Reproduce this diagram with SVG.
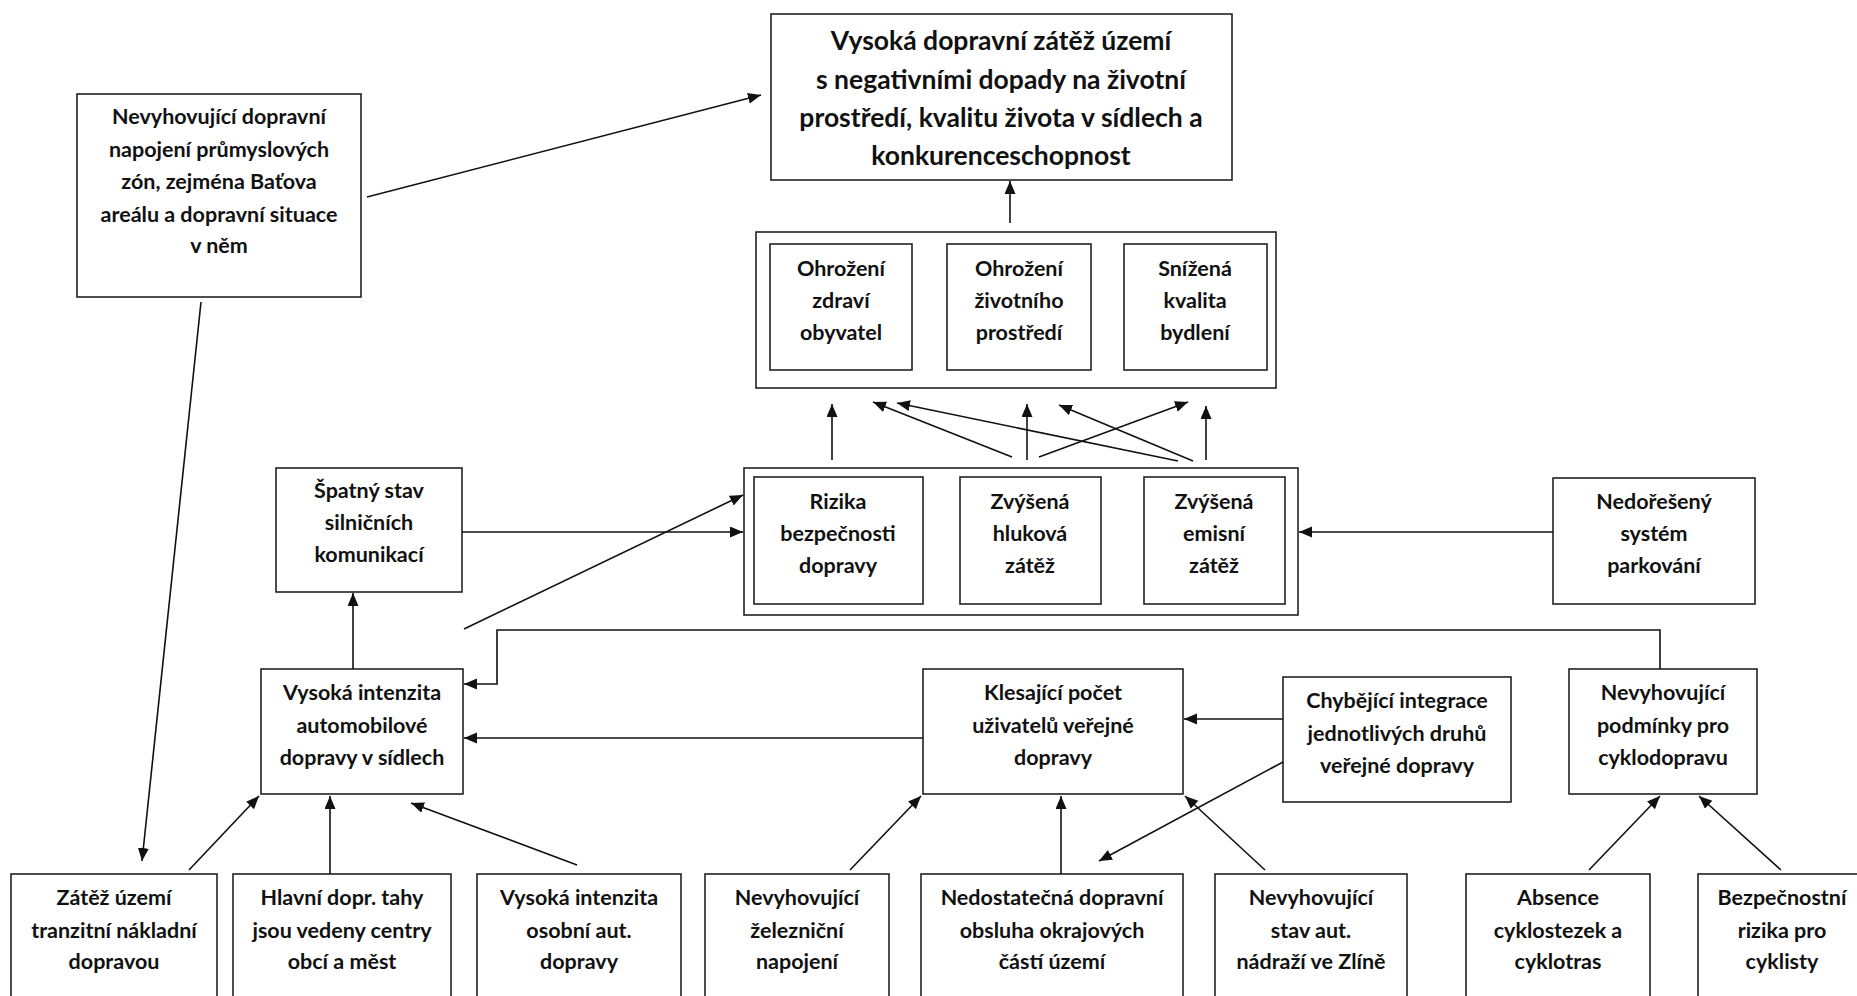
<svg xmlns="http://www.w3.org/2000/svg" width="1857" height="996" viewBox="0 0 1857 996">
<defs>
<marker id="ah" markerUnits="userSpaceOnUse" markerWidth="14" markerHeight="12" refX="13" refY="5.5" orient="auto">
<path d="M0,0 L13,5.5 L0,11 z" fill="#111"/>
</marker>
<style>
.box{fill:#fff;stroke:#222;stroke-width:1.6}
.t{font-family:Lato,"Liberation Sans",sans-serif;font-weight:bold;font-size:21.5px;fill:#111;text-anchor:middle}
.big{font-size:26.5px}
.c{fill:none;stroke:#111;stroke-width:1.6}
.a{marker-end:url(#ah)}
</style>
</defs>
<rect width="1857" height="996" fill="#fff"/>

<g id="goal">
<rect class="box" x="771" y="14" width="461" height="166"/>
<text class="t big" x="1001" y="50">Vysoká dopravní zátěž území</text>
<text class="t big" x="1001" y="89">s negativními dopady na životní</text>
<text class="t big" x="1001" y="127">prostředí, kvalitu života v sídlech a</text>
<text class="t big" x="1001" y="165">konkurenceschopnost</text>
</g>

<g id="napojeni">
<rect class="box" x="77" y="94" width="284" height="203"/>
<text class="t" x="219" y="124">Nevyhovující dopravní</text>
<text class="t" x="219" y="157">napojení průmyslových</text>
<text class="t" x="219" y="189">zón, zejména Baťova</text>
<text class="t" x="219" y="222">areálu a dopravní situace</text>
<text class="t" x="219" y="253">v něm</text>
</g>

<g id="impacts">
<rect class="box" x="756" y="232" width="520" height="156"/>
<g id="zdravi">
<rect class="box" x="770" y="244" width="142" height="126"/>
<text class="t" x="841" y="276">Ohrožení</text>
<text class="t" x="841" y="308">zdraví</text>
<text class="t" x="841" y="340">obyvatel</text>
</g>
<g id="prostredi">
<rect class="box" x="947" y="244" width="144" height="126"/>
<text class="t" x="1019" y="276">Ohrožení</text>
<text class="t" x="1019" y="308">životního</text>
<text class="t" x="1019" y="340">prostředí</text>
</g>
<g id="bydleni">
<rect class="box" x="1124" y="244" width="143" height="126"/>
<text class="t" x="1195" y="276">Snížená</text>
<text class="t" x="1195" y="308">kvalita</text>
<text class="t" x="1195" y="340">bydlení</text>
</g>
</g>

<g id="effects">
<rect class="box" x="744" y="468" width="554" height="147"/>
<g id="rizika">
<rect class="box" x="754" y="477" width="169" height="127"/>
<text class="t" x="838" y="509">Rizika</text>
<text class="t" x="838" y="541">bezpečnosti</text>
<text class="t" x="838" y="573">dopravy</text>
</g>
<g id="hluk">
<rect class="box" x="960" y="477" width="141" height="127"/>
<text class="t" x="1030" y="509">Zvýšená</text>
<text class="t" x="1030" y="541">hluková</text>
<text class="t" x="1030" y="573">zátěž</text>
</g>
<g id="emise">
<rect class="box" x="1144" y="477" width="141" height="127"/>
<text class="t" x="1214" y="509">Zvýšená</text>
<text class="t" x="1214" y="541">emisní</text>
<text class="t" x="1214" y="573">zátěž</text>
</g>
</g>

<g id="spatny">
<rect class="box" x="276" y="468" width="186" height="124"/>
<text class="t" x="369" y="498">Špatný stav</text>
<text class="t" x="369" y="530">silničních</text>
<text class="t" x="369" y="562">komunikací</text>
</g>

<g id="parkovani">
<rect class="box" x="1553" y="478" width="202" height="126"/>
<text class="t" x="1654" y="509">Nedořešený</text>
<text class="t" x="1654" y="541">systém</text>
<text class="t" x="1654" y="573">parkování</text>
</g>

<g id="auto">
<rect class="box" x="261" y="669" width="202" height="125"/>
<text class="t" x="362" y="700">Vysoká intenzita</text>
<text class="t" x="362" y="733">automobilové</text>
<text class="t" x="362" y="765">dopravy v sídlech</text>
</g>

<g id="klesajici">
<rect class="box" x="923" y="669" width="260" height="125"/>
<text class="t" x="1053" y="700">Klesající počet</text>
<text class="t" x="1053" y="733">uživatelů veřejné</text>
<text class="t" x="1053" y="765">dopravy</text>
</g>

<g id="integrace">
<rect class="box" x="1283" y="677" width="228" height="125"/>
<text class="t" x="1397" y="708">Chybějící integrace</text>
<text class="t" x="1397" y="741">jednotlivých druhů</text>
<text class="t" x="1397" y="773">veřejné dopravy</text>
</g>

<g id="cyklo">
<rect class="box" x="1569" y="669" width="188" height="125"/>
<text class="t" x="1663" y="700">Nevyhovující</text>
<text class="t" x="1663" y="733">podmínky pro</text>
<text class="t" x="1663" y="765">cyklodopravu</text>
</g>

<g id="tranzit">
<rect class="box" x="11" y="874" width="206" height="140"/>
<text class="t" x="114" y="905">Zátěž území</text>
<text class="t" x="114" y="938">tranzitní nákladní</text>
<text class="t" x="114" y="969">dopravou</text>
</g>
<g id="tahy">
<rect class="box" x="233" y="874" width="218" height="140"/>
<text class="t" x="342" y="905">Hlavní dopr. tahy</text>
<text class="t" x="342" y="938">jsou vedeny centry</text>
<text class="t" x="342" y="969">obcí a měst</text>
</g>
<g id="osobni">
<rect class="box" x="477" y="874" width="204" height="140"/>
<text class="t" x="579" y="905">Vysoká intenzita</text>
<text class="t" x="579" y="938">osobní aut.</text>
<text class="t" x="579" y="969">dopravy</text>
</g>
<g id="zeleznice">
<rect class="box" x="705" y="874" width="184" height="140"/>
<text class="t" x="797" y="905">Nevyhovující</text>
<text class="t" x="797" y="938">železniční</text>
<text class="t" x="797" y="969">napojení</text>
</g>
<g id="obsluha">
<rect class="box" x="921" y="874" width="262" height="140"/>
<text class="t" x="1052" y="905">Nedostatečná dopravní</text>
<text class="t" x="1052" y="938">obsluha okrajových</text>
<text class="t" x="1052" y="969">částí území</text>
</g>
<g id="nadrazi">
<rect class="box" x="1215" y="874" width="192" height="140"/>
<text class="t" x="1311" y="905">Nevyhovující</text>
<text class="t" x="1311" y="938">stav aut.</text>
<text class="t" x="1311" y="969">nádraží ve Zlíně</text>
</g>
<g id="cyklostezky">
<rect class="box" x="1466" y="874" width="184" height="140"/>
<text class="t" x="1558" y="905">Absence</text>
<text class="t" x="1558" y="938">cyklostezek a</text>
<text class="t" x="1558" y="969">cyklotras</text>
</g>
<g id="cyklisti">
<rect class="box" x="1698" y="874" width="190" height="140"/>
<text class="t" x="1782" y="905">Bezpečnostní</text>
<text class="t" x="1782" y="938">rizika pro</text>
<text class="t" x="1782" y="969">cyklisty</text>
</g>

<g id="connectors">
<line class="c a" x1="367" y1="197" x2="761" y2="95"/>
<line class="c a" x1="1010" y1="223" x2="1010" y2="181"/>
<line class="c a" x1="832" y1="460" x2="832" y2="404"/>
<line class="c a" x1="1012" y1="457" x2="873" y2="402"/>
<line class="c a" x1="1178" y1="461" x2="897" y2="403"/>
<line class="c a" x1="1027" y1="460" x2="1027" y2="404"/>
<line class="c a" x1="1039" y1="457" x2="1188" y2="402"/>
<line class="c a" x1="1193" y1="461" x2="1059" y2="405"/>
<line class="c a" x1="1206" y1="460" x2="1206" y2="406"/>
<line class="c a" x1="462" y1="532" x2="743" y2="532"/>
<line class="c a" x1="1553" y1="532" x2="1299" y2="532"/>
<line class="c a" x1="464" y1="629" x2="743" y2="495"/>
<line class="c a" x1="353" y1="669" x2="353" y2="593"/>
<polyline class="c a" points="1660,669 1660,630 497,630 497,684 464,684"/>
<line class="c a" x1="923" y1="738" x2="464" y2="738"/>
<line class="c a" x1="1283" y1="719" x2="1184" y2="719"/>
<line class="c a" x1="1283" y1="762" x2="1099" y2="861"/>
<line class="c a" x1="201" y1="302" x2="142" y2="861"/>
<line class="c a" x1="189" y1="870" x2="259" y2="796"/>
<line class="c a" x1="330" y1="874" x2="330" y2="796"/>
<line class="c a" x1="577" y1="865" x2="411" y2="803"/>
<line class="c a" x1="850" y1="870" x2="921" y2="796"/>
<line class="c a" x1="1061" y1="874" x2="1061" y2="796"/>
<line class="c a" x1="1265" y1="870" x2="1185" y2="796"/>
<line class="c a" x1="1589" y1="870" x2="1660" y2="796"/>
<line class="c a" x1="1781" y1="870" x2="1699" y2="796"/>
</g>
</svg>
